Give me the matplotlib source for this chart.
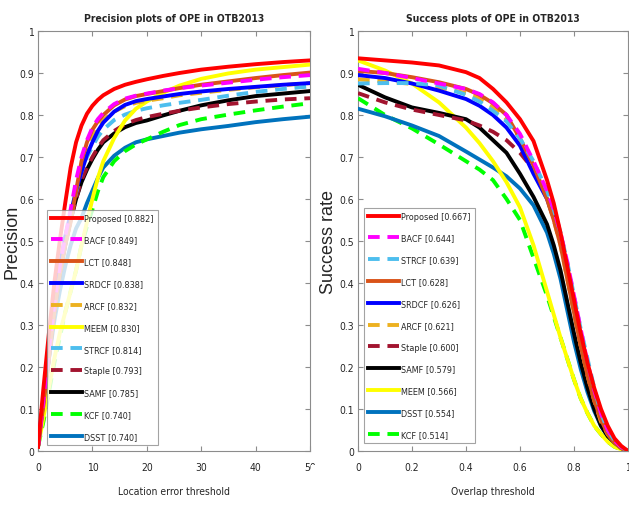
import os
import glob
import matplotlib
matplotlib.use("Agg")
import matplotlib.pyplot as plt
from matplotlib.patches import Rectangle
from matplotlib import font_manager
from matplotlib.font_manager import FontProperties

# ---------------- data ----------------
prec_x = [0, 1, 2, 3, 4, 5, 6, 7, 8, 9, 10, 11, 12, 14, 16, 18, 20, 23, 26, 30, 35, 40, 45, 50]
prec_keys = ['Proposed', 'BACF', 'LCT', 'SRDCF', 'ARCF', 'MEEM', 'STRCF', 'Staple', 'SAMF', 'KCF', 'DSST']
prec_names = ['Proposed [0.882]', 'BACF [0.849]', 'LCT [0.848]', 'SRDCF [0.838]', 'ARCF [0.832]',
              'MEEM [0.830]', 'STRCF [0.814]', 'Staple [0.793]', 'SAMF [0.785]', 'KCF [0.740]', 'DSST [0.740]']
prec_proposed = [0.01, 0.15, 0.28, 0.40, 0.50, 0.59, 0.675, 0.735, 0.775, 0.803, 0.822, 0.836, 0.847, 0.862, 0.872, 0.879, 0.885, 0.893, 0.900, 0.908, 0.915, 0.921, 0.926, 0.930]
prec_bacf     = [0.01, 0.12, 0.24, 0.35, 0.44, 0.51, 0.575, 0.645, 0.700, 0.740, 0.770, 0.790, 0.805, 0.826, 0.839, 0.846, 0.851, 0.858, 0.864, 0.870, 0.877, 0.884, 0.890, 0.895]
prec_lct      = [0.01, 0.11, 0.22, 0.33, 0.42, 0.49, 0.545, 0.620, 0.690, 0.735, 0.765, 0.785, 0.800, 0.823, 0.837, 0.845, 0.850, 0.857, 0.864, 0.872, 0.880, 0.888, 0.895, 0.901]
prec_srdcf    = [0.01, 0.12, 0.24, 0.35, 0.44, 0.51, 0.565, 0.620, 0.665, 0.705, 0.735, 0.762, 0.782, 0.808, 0.824, 0.833, 0.838, 0.844, 0.850, 0.856, 0.862, 0.867, 0.872, 0.876]
prec_arcf     = [0.01, 0.11, 0.23, 0.34, 0.43, 0.50, 0.556, 0.620, 0.675, 0.715, 0.745, 0.770, 0.788, 0.808, 0.821, 0.829, 0.834, 0.840, 0.847, 0.853, 0.860, 0.866, 0.871, 0.876]
prec_meem     = [0.01, 0.08, 0.15, 0.22, 0.28, 0.33, 0.38, 0.43, 0.49, 0.545, 0.600, 0.650, 0.690, 0.745, 0.787, 0.815, 0.832, 0.853, 0.870, 0.886, 0.899, 0.908, 0.914, 0.920]
prec_strcf    = [0.01, 0.11, 0.23, 0.34, 0.43, 0.50, 0.556, 0.615, 0.665, 0.700, 0.725, 0.748, 0.765, 0.788, 0.801, 0.810, 0.816, 0.823, 0.829, 0.836, 0.846, 0.855, 0.862, 0.868]
prec_staple   = [0.01, 0.11, 0.22, 0.33, 0.42, 0.49, 0.55, 0.60, 0.645, 0.675, 0.700, 0.722, 0.740, 0.762, 0.778, 0.788, 0.795, 0.803, 0.810, 0.818, 0.826, 0.832, 0.837, 0.840]
prec_samf     = [0.01, 0.11, 0.22, 0.33, 0.42, 0.49, 0.55, 0.60, 0.640, 0.670, 0.695, 0.717, 0.735, 0.756, 0.771, 0.781, 0.787, 0.799, 0.810, 0.823, 0.835, 0.845, 0.851, 0.857]
prec_kcf      = [0.01, 0.07, 0.14, 0.21, 0.27, 0.33, 0.38, 0.43, 0.49, 0.535, 0.575, 0.618, 0.652, 0.690, 0.714, 0.730, 0.742, 0.760, 0.776, 0.790, 0.801, 0.811, 0.820, 0.828]
prec_dsst     = [0.02, 0.12, 0.22, 0.31, 0.38, 0.44, 0.49, 0.53, 0.555, 0.590, 0.620, 0.650, 0.675, 0.703, 0.722, 0.735, 0.742, 0.750, 0.758, 0.766, 0.774, 0.783, 0.790, 0.796]
prec_values = [prec_proposed, prec_bacf, prec_lct, prec_srdcf, prec_arcf, prec_meem,
               prec_strcf, prec_staple, prec_samf, prec_kcf, prec_dsst]

succ_x = [0, 0.1, 0.2, 0.3, 0.4, 0.45, 0.5, 0.55, 0.6, 0.65, 0.7, 0.725, 0.75, 0.775, 0.8,
          0.825, 0.85, 0.875, 0.9, 0.925, 0.95, 0.975, 1.0]
succ_keys = ['Proposed', 'BACF', 'STRCF', 'LCT', 'SRDCF', 'ARCF', 'Staple', 'SAMF', 'MEEM', 'DSST', 'KCF']
succ_names = ['Proposed [0.667]', 'BACF [0.644]', 'STRCF [0.639]', 'LCT [0.628]', 'SRDCF [0.626]',
              'ARCF [0.621]', 'Staple [0.600]', 'SAMF [0.579]', 'MEEM [0.566]', 'DSST [0.554]', 'KCF [0.514]']
succ_proposed = [.935, .930, .925, .918, .902, .888, .862, .830, .790, .738, .645, .590, .520, .440, .360, .280, .210, .150, .100, .060, .030, .012, 0]
succ_bacf     = [.910, .900, .888, .875, .862, .850, .830, .800, .755, .690, .620, .575, .520, .450, .370, .290, .210, .145, .090, .050, .025, .010, 0]
succ_strcf    = [.875, .876, .876, .870, .848, .832, .810, .785, .744, .690, .620, .575, .520, .450, .370, .290, .220, .150, .090, .050, .025, .010, 0]
succ_lct      = [.905, .900, .890, .878, .862, .848, .828, .800, .744, .680, .600, .550, .490, .410, .330, .250, .180, .120, .075, .040, .020, .007, 0]
succ_srdcf    = [.895, .888, .875, .858, .838, .822, .800, .770, .727, .660, .600, .555, .500, .430, .350, .270, .200, .135, .080, .045, .020, .008, 0]
succ_arcf     = [.885, .880, .874, .866, .852, .840, .820, .790, .744, .675, .600, .550, .490, .410, .330, .250, .180, .120, .070, .040, .020, .007, 0]
succ_staple   = [.852, .830, .813, .800, .787, .775, .760, .740, .710, .670, .620, .565, .500, .420, .330, .250, .180, .120, .070, .040, .020, .007, 0]
succ_samf     = [.872, .842, .818, .805, .790, .770, .740, .710, .660, .605, .540, .490, .430, .355, .280, .210, .150, .100, .060, .035, .020, .007, 0]
succ_meem     = [.930, .906, .875, .830, .770, .733, .690, .640, .580, .490, .380, .325, .270, .220, .170, .125, .090, .060, .040, .022, .010, .004, 0]
succ_dsst     = [.815, .797, .775, .750, .713, .694, .675, .654, .625, .585, .520, .470, .410, .335, .260, .195, .140, .095, .060, .035, .020, .007, 0]
succ_kcf      = [.840, .800, .768, .730, .690, .670, .645, .600, .550, .460, .370, .320, .270, .220, .170, .125, .090, .060, .040, .022, .010, .004, 0]
succ_values = [succ_proposed, succ_bacf, succ_strcf, succ_lct, succ_srdcf, succ_arcf,
               succ_staple, succ_samf, succ_meem, succ_dsst, succ_kcf]

prec_xticks = [0, 10, 20, 30, 40, 50]
prec_xticklabels = ['0', '10', '20', '30', '40', '50']
succ_xticks = [0, 0.2, 0.4, 0.6, 0.8, 1.0]
succ_xticklabels = ['0', '0.2', '0.4', '0.6', '0.8', '1']
yticks = [0, 0.1, 0.2, 0.3, 0.4, 0.5, 0.6, 0.7, 0.8, 0.9, 1.0]
yticklabels = ['0', '0.1', '0.2', '0.3', '0.4', '0.5', '0.6', '0.7', '0.8', '0.9', '1']

# ---------------- fonts ----------------
def find_font(basenames):
    paths = [f.fname for f in font_manager.fontManager.ttflist]
    for root in ('/usr/share/fonts', '/usr/local/share/fonts', os.path.expanduser('~/.fonts')):
        paths += glob.glob(os.path.join(root, '**', '*.ttf'), recursive=True)
    for b in basenames:
        for p in paths:
            if os.path.basename(p) == b:
                return p
    return None

narrow_reg = find_font(['LiberationSansNarrow-Regular.ttf', 'DejaVuSansCondensed.ttf'])
narrow_bold = find_font(['LiberationSansNarrow-Bold.ttf', 'DejaVuSansCondensed-Bold.ttf'])


def fp(size, bold=False):
    path = narrow_bold if bold else narrow_reg
    if path:
        return FontProperties(fname=path, size=size)
    return FontProperties(family=['Liberation Sans', 'DejaVu Sans'], size=size * 0.85,
                          weight='bold' if bold else 'normal')


plt.rcParams['font.family'] = ['Liberation Sans', 'DejaVu Sans']

# ---------------- styles ----------------
DASH = (0, (3.0, 2.0))
style = {
    'Proposed': ('#FF0000', '-'),
    'BACF': ('#FF00FF', DASH),
    'LCT': ('#D95319', '-'),
    'SRDCF': ('#0000FF', '-'),
    'ARCF': ('#EDB120', DASH),
    'MEEM': ('#FFFF00', '-'),
    'STRCF': ('#4DBEEE', DASH),
    'Staple': ('#A2142F', DASH),
    'SAMF': ('#000000', '-'),
    'KCF': ('#00FF00', DASH),
    'DSST': ('#0072BD', '-'),
}
LW = 2.8
GRAY = '#8c8c8c'
TXT = '#262626'

fig = plt.figure(figsize=(6.29, 5.06), dpi=100)
ax1 = fig.add_axes([38 / 629, 1 - 452 / 506, 272 / 629, 420 / 506])
ax2 = fig.add_axes([358 / 629, 1 - 452 / 506, 270 / 629, 420 / 506])


def style_axes(ax, xticks, xticklabels, xlim):
    for s in ax.spines.values():
        s.set_color(GRAY)
        s.set_linewidth(0.8)
    ax.set_xlim(*xlim)
    ax.set_ylim(0, 1)
    ax.set_xticks(xticks)
    ax.set_xticklabels(xticklabels)
    ax.set_yticks(yticks)
    ax.set_yticklabels(yticklabels)
    ax.tick_params(direction='in', top=True, right=True, length=3.5, width=0.8,
                   color=GRAY, labelcolor=TXT)
    ax.tick_params(axis='x', pad=8)
    ax.tick_params(axis='y', pad=3)
    for lbl in ax.get_xticklabels() + ax.get_yticklabels():
        lbl.set_fontproperties(fp(7.5))


def draw(ax, xs, keys, names, values, loc_anchor):
    handles = []
    for k, n, v in zip(keys, names, values):
        c, ls = style[k]
        h, = ax.plot(xs, v, color=c, linestyle=ls, lw=LW, label=n)
        handles.append(h)
    for i, h in enumerate(handles):
        h.set_zorder(3 + len(handles) - i)
    leg = ax.legend(handles=handles, loc='lower left', bbox_to_anchor=loc_anchor,
                    prop=fp(6.5), handlelength=3.4, handletextpad=0.25, labelspacing=1.42,
                    borderpad=0.45, borderaxespad=0, frameon=True, fancybox=False)
    leg.get_frame().set_edgecolor(GRAY)
    leg.get_frame().set_linewidth(0.8)
    leg.set_zorder(20)
    for t in leg.get_texts():
        t.set_color(TXT)


draw(ax1, prec_x, prec_keys, prec_names, prec_values, (9 / 272, 6 / 420))
draw(ax2, succ_x, succ_keys, succ_names, succ_values, (6 / 270, 8 / 420))

style_axes(ax1, prec_xticks, prec_xticklabels, (0, 50))
style_axes(ax2, succ_xticks, succ_xticklabels, (0, 1))

ax1.set_title('Precision plots of OPE in OTB2013', fontproperties=fp(7.5, True), color=TXT, pad=7)
ax2.set_title('Success plots of OPE in OTB2013', fontproperties=fp(7.5, True), color=TXT, pad=7)
ax1.set_xlabel('Location error threshold', fontproperties=fp(7.5), color=TXT, labelpad=10)
ax2.set_xlabel('Overlap threshold', fontproperties=fp(7.5), color=TXT, labelpad=10)
ax1.set_ylabel('Precision', fontsize=13, color=TXT)
ax2.set_ylabel('Success rate', fontsize=13, color=TXT)
ax1.yaxis.set_label_coords(-0.066, 0.5)
ax2.yaxis.set_label_coords(-0.078, 0.5)

# the right part of the left panel's last tick label is covered in the reference
fig.patches.append(Rectangle((310.5 / 629, 0.035), 13 / 629, 0.045, transform=fig.transFigure,
                             facecolor='white', edgecolor='none', zorder=5))

fig.savefig('out.png', dpi=100)
